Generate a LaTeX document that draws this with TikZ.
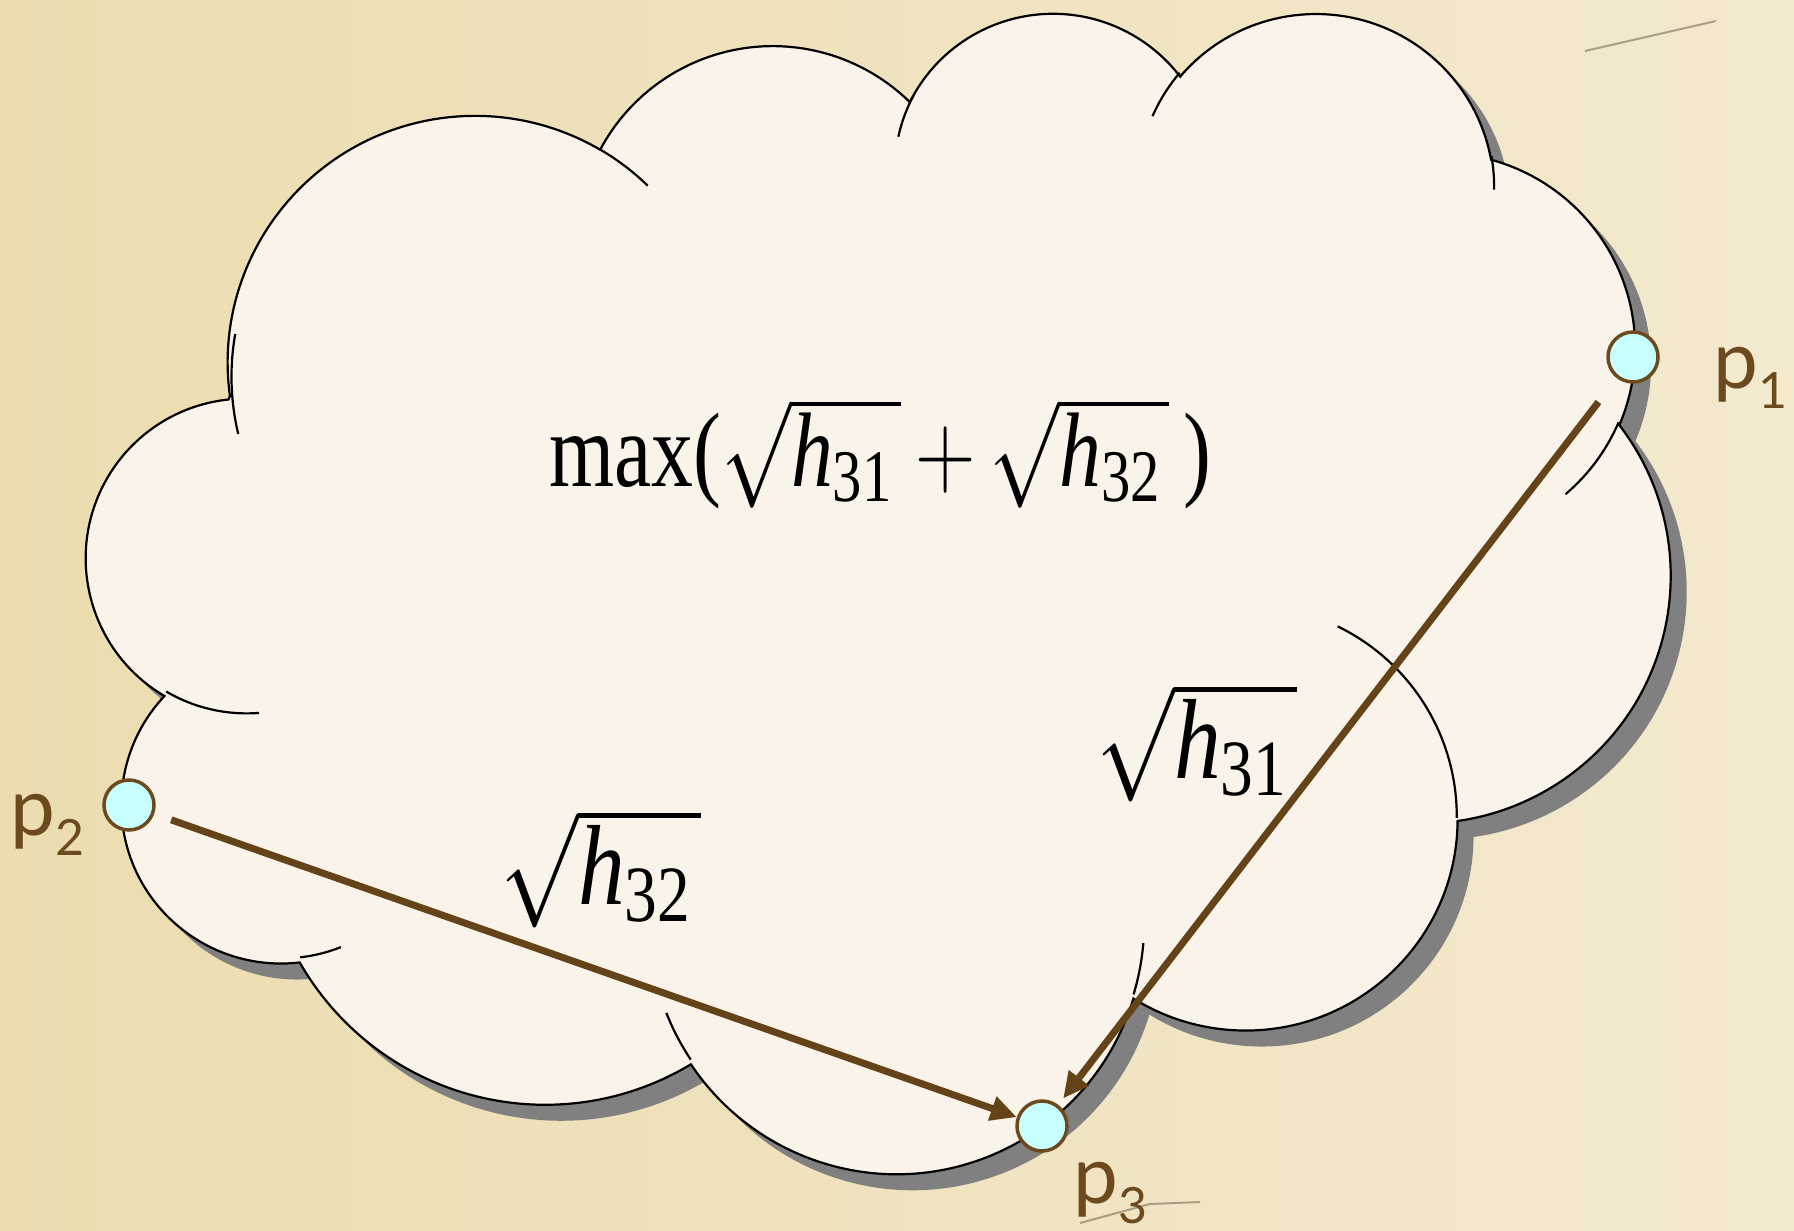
\RequirePackage{fix-cm}
\documentclass[tikz,border=0pt]{standalone}
\usepackage{amsmath}
\usepackage{fontspec}
\setmainfont{Liberation Serif}
\newfontfamily\labelfont{Lato}
\usetikzlibrary{arrows.meta, positioning}
\definecolor{paperleft}{HTML}{ECDCB0}
\definecolor{paperright}{HTML}{F3E9CD}
\definecolor{cloudfill}{HTML}{FAF3EA}
\definecolor{shadowgray}{HTML}{808080}
\definecolor{pointfill}{HTML}{C8FFFF}
\definecolor{brownline}{HTML}{644318}
\definecolor{browntext}{HTML}{6C4A1E}
\definecolor{fibregray}{HTML}{8A8168}

% outline of the cloud, in units of 1/432 of its box
\newcommand\cloudoutline{%
  (39.00,143.70)
  \foreach \rx/\ry/\st/\sw in {67.53/91.90/-190.4875/123.7805, 53.33/72.67/-144.1024/89.9452,
      43.65/59.45/-145.8079/99.7230, 48.57/65.95/-130.9861/117.2417,
      53.33/72.73/-78.7089/109.0269, 67.75/92.20/-46.2673/130.2690,
      57.85/78.67/0.6250/114.0333, 67.52/92.15/22.4516/115.1726,
      77.20/105.43/66.2426/75.7110, 43.60/59.18/-274.9421/146.7356,
      43.45/59.45/-246.8285/152.5189}
    { arc[x radius=\rx, y radius=\ry, start angle={visang(\st,\rx,\ry)}, delta angle={parsweep(\st,\sw,\rx,\ry)}] }
  -- cycle}
\newcommand\ptname[1]{p\lower20pt\hbox{\fontsize{50}{50}\selectfont #1}}
\newcommand\rootof[1]{\sqrt{\text{\itshape h}_{\text{#1}}\mskip2mu}}

\begin{document}
\begin{tikzpicture}[
    x=1pt, y=-1pt,
    declare function={
      visang(\pa,\pw,\ph)=atan2(\pw*sin(\pa),\ph*cos(\pa));
      rawsweep(\pa,\ps,\pw,\ph)=visang(\pa+\ps,\pw,\ph)-visang(\pa,\pw,\ph);
      parsweep(\pa,\ps,\pw,\ph)=rawsweep(\pa,\ps,\pw,\ph)-360*round((rawsweep(\pa,\ps,\pw,\ph)-\ps)/360);
    },
    cloudline/.style={draw=black, line width=2.2pt},
    point/.style={circle, draw=browntext, fill=pointfill, line width=3.5pt, minimum size=50pt, inner sep=0pt},
    pointlabel/.style={font=\labelfont\fontsize{80}{80}\selectfont, text=browntext, inner sep=0pt},
    heightlabel/.style={font=\fontsize{114}{130}\selectfont, inner sep=0pt, anchor=base west},
    arrowline/.style={draw=brownline, line width=7pt, -{Triangle[length=26pt, width=24pt]}},
    fibre/.style={draw=fibregray, line width=2pt, opacity=0.7},
]
\useasboundingbox (0,0) rectangle (1794,1231);
\shade[left color=paperleft, right color=paperright] (0,0) rectangle (1794,1231);
\draw[fibre] (1585,51) -- (1716,21);
\draw[fibre] (1080,1223) -- (1150,1204) -- (1200,1202);

% cloud with its shadow
\begin{scope}[shift={(87,10)}, x=3.66435pt, y=-2.68519pt]
  \fill[shadowgray, xshift=16pt, yshift=-16pt] \cloudoutline;
  \path[cloudline, fill=cloudfill] \cloudoutline;
  \draw[cloudline]
    \foreach \px/\py/\rx/\ry/\st/\sw in {46.93/261.77/43.45/59.45/86.7420/26.4295,
        69.28/348.99/43.60/59.18/73.6105/11.4475, 164.78/390.90/67.52/92.15/137.6242/14.0811,
        288.27/347.51/67.52/92.15/6.4533/15.9984, 341.29/229.54/57.85/78.67/-70.2924/70.9174,
        417.98/153.54/53.33/72.73/30.3180/27.7515, 383.24/54.26/48.57/65.95/-13.7443/14.8570,
        290.78/39.52/48.57/65.95/-149.1815/18.1959, 221.41/47.20/43.65/59.45/-163.4943/19.5048,
        140.00/51.92/67.53/91.90/-66.7070/12.3194, 41.27/157.89/67.53/91.90/162.0412/31.4599}
      { (\px,\py) arc[x radius=\rx, y radius=\ry, start angle={visang(\st,\rx,\ry)}, delta angle={parsweep(\st,\sw,\rx,\ry)}] };
\end{scope}

\node[heightlabel, font=\fontsize{106}{120}\selectfont] (objective) at (549,486)
  {\scalebox{0.79}[1]{$\text{max(}\rootof{31}\mskip3mu{+}\mskip3mu\rootof{32}\mskip3mu\text{)}$}};

\node[point] (p1) at (1633,357) {};
\node[point] (p2) at (129,805) {};
\node[point] (p3) at (1042,1126) {};

\draw[arrowline, shorten <=30pt, shorten >=8pt] (p1) -- (p3);
\draw[arrowline, shorten <=18pt] (p2) -- (p3);

\node[heightlabel] (h31) at (1096,778) {\scalebox{0.82}[1]{$\rootof{31}$}};
\node[heightlabel] (h32) at (500,904) {\scalebox{0.82}[1]{$\rootof{32}$}};

\node[pointlabel, anchor=base west] (lp1) at (1713,388) {\ptname{1}};
\node[pointlabel, anchor=base east] (lp2) at (85,835) {\ptname{2}};
\node[pointlabel, anchor=base west] (lp3) at (1073,1203) {\ptname{3}};
\end{tikzpicture}
\end{document}
